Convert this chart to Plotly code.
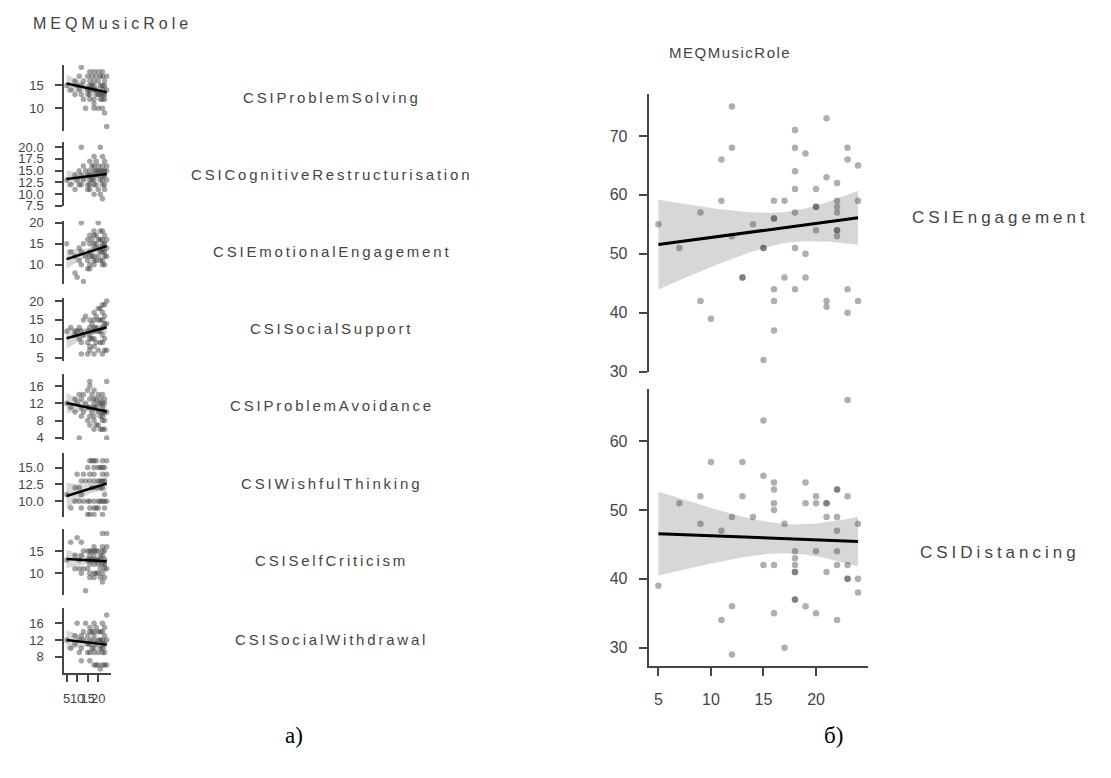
import numpy as np
import plotly.graph_objects as go

W, H = 1111, 778

# ---------------- data ----------------
# Left panel: MEQMusicRole (x) shared by all eight CSI scales
meq = [5, 7, 9, 9, 10, 11, 11, 12, 12, 12, 13, 13, 14, 15, 15, 15,
       16, 16, 16, 16, 16, 16, 17, 17, 18, 18, 18, 18, 18, 18, 18,
       19, 19, 19, 20, 20, 20, 20, 21, 21, 21, 21,
       22, 22, 22, 22, 22, 22, 22, 23, 23, 23, 23, 23, 24, 24, 24]

left_names = ["CSIProblemSolving", "CSICognitiveRestructurisation",
              "CSIEmotionalEngagement", "CSISocialSupport",
              "CSIProblemAvoidance", "CSIWishfulThinking",
              "CSISelfCriticism", "CSISocialWithdrawal"]

problem_solving = [15, 14, 16, 13, 15, 17, 14, 19, 15, 13, 16, 12, 10, 17, 14, 13,
                   18, 16, 15, 14, 13, 12, 17, 15, 18, 16, 15, 14, 12, 11, 10,
                   17, 14, 13, 18, 16, 13, 10, 17, 15, 13, 12,
                   18, 17, 15, 14, 13, 12, 10, 16, 15, 13, 12, 9, 17, 14, 6]
cognitive_restr = [13, 12, 14, 11, 13, 15, 12, 20, 14, 12, 16, 13, 15, 14, 12, 11,
                   17, 15, 14, 13, 12, 11, 16, 13, 18, 16, 15, 14, 13, 12, 10,
                   17, 15, 12, 16, 15, 14, 11, 20, 15, 13, 10,
                   18, 16, 15, 14, 13, 12, 9, 17, 15, 14, 12, 11, 16, 15, 13]
emotional_eng = [15, 13, 8, 12, 7, 14, 11, 20, 13, 10, 6, 15, 12, 16, 11, 9,
                 17, 15, 13, 12, 10, 9, 16, 12, 18, 17, 15, 14, 12, 11, 10,
                 17, 15, 11, 20, 16, 14, 12, 18, 16, 13, 11,
                 18, 16, 15, 14, 13, 11, 10, 17, 15, 13, 12, 10, 16, 14, 12]
social_support = [12, 13, 11, 12, 12, 13, 10, 12, 9, 6, 15, 11, 16, 12, 9, 6,
                  15, 13, 11, 10, 8, 7, 14, 10, 17, 15, 13, 12, 10, 8, 6,
                  16, 13, 9, 18, 15, 12, 7, 18, 15, 12, 9,
                  19, 17, 15, 13, 11, 9, 6, 19, 16, 14, 10, 7, 20, 14, 7]
problem_avoid = [12, 11, 10, 13, 12, 14, 4, 13, 9, 11, 14, 10, 12, 15, 11, 8,
                 17, 16, 13, 11, 9, 7, 14, 10, 15, 13, 12, 11, 9, 8, 6,
                 13, 11, 7, 14, 12, 10, 7, 13, 12, 9, 6,
                 14, 12, 11, 10, 9, 8, 6, 13, 12, 10, 8, 6, 17, 10, 4]
wishful = [11, 9, 10, 12, 14, 10, 12, 13, 9, 11, 14, 10, 13, 15, 10, 8,
           16, 14, 13, 10, 9, 8, 16, 12, 16, 15, 14, 13, 10, 9, 8,
           16, 12, 9, 15, 13, 10, 9, 15, 13, 12, 10,
           16, 15, 14, 13, 12, 10, 8, 15, 13, 11, 10, 9, 16, 14, 10]
self_criticism = [13, 17, 14, 11, 18, 13, 11, 17, 14, 10, 15, 11, 6, 15, 13, 11,
                  15, 14, 13, 12, 10, 9, 15, 13, 16, 15, 14, 13, 12, 10, 9,
                  15, 13, 10, 15, 13, 12, 10, 14, 13, 11, 9,
                  19, 16, 15, 14, 12, 10, 8, 15, 13, 12, 11, 9, 19, 16, 11]
social_withdr = [12, 10, 13, 11, 16, 12, 9, 13, 10, 7, 14, 12, 16, 13, 11, 9,
                 15, 14, 12, 11, 9, 7, 14, 10, 16, 14, 13, 12, 10, 9, 6,
                 15, 11, 6, 14, 12, 9, 6, 14, 12, 10, 5,
                 16, 14, 12, 11, 10, 9, 6, 15, 13, 11, 9, 6, 18, 12, 6]
left_values = [problem_solving, cognitive_restr, emotional_eng, social_support,
               problem_avoid, wishful, self_criticism, social_withdr]

left_yticks = [[10, 15], [7.5, 10.0, 12.5, 15.0, 17.5, 20.0], [10, 15, 20],
               [5, 10, 15, 20], [4, 8, 12, 16], [10.0, 12.5, 15.0], [10, 15],
               [8, 12, 16]]
left_yticktext = [["10", "15"], ["7.5", "10.0", "12.5", "15.0", "17.5", "20.0"],
                  ["10", "15", "20"], ["5", "10", "15", "20"],
                  ["4", "8", "12", "16"], ["10.0", "12.5", "15.0"],
                  ["10", "15"], ["8", "12", "16"]]
x_ticks = [5, 10, 15, 20]

# Right panel
eng_x = [5, 7, 9, 11, 11, 12, 12, 12, 14, 15, 15, 16, 16, 16, 17,
         18, 18, 18, 18, 18, 18, 19, 19, 20, 20, 20, 20, 21, 21,
         22, 22, 22, 22, 22, 22, 22, 23, 23, 24, 24,
         13, 13, 17, 19, 16, 18, 23, 9, 16, 21, 21, 24, 10, 23, 16, 15]
eng_y = [55, 51, 57, 66, 59, 75, 68, 53, 55, 51, 51, 59, 56, 56, 59,
         71, 68, 64, 61, 57, 51, 67, 50, 61, 58, 58, 54, 73, 63,
         62, 59, 58, 57, 54, 54, 53, 68, 66, 65, 59,
         46, 46, 46, 46, 44, 44, 44, 42, 42, 42, 41, 42, 39, 40, 37, 32]
dist_x = [5, 7, 9, 9, 10, 11, 11, 12, 12, 12, 13, 13, 14, 15, 15, 15,
          16, 16, 16, 16, 16, 16, 17, 17, 18, 18, 18, 18, 18, 18, 18,
          19, 19, 19, 20, 20, 20, 20, 21, 21, 21, 21,
          22, 22, 22, 22, 22, 22, 22, 23, 23, 23, 23, 23, 24, 24, 24]
dist_y = [39, 51, 52, 48, 57, 47, 34, 49, 36, 29, 57, 52, 49, 55, 42, 63,
          54, 53, 51, 50, 42, 35, 48, 30, 44, 43, 42, 41, 41, 37, 37,
          54, 51, 36, 52, 51, 44, 35, 51, 51, 49, 41,
          53, 53, 49, 47, 44, 42, 34, 52, 42, 40, 40, 66, 48, 40, 38]
right_names = ["CSIEngagement", "CSIDistancing"]
right_yticks = [[30, 40, 50, 60, 70], [30, 40, 50, 60]]

# ---------------- layout helpers ----------------
def px(x):
    return x / W


def py(y):
    return 1 - y / H


def fit_band(x, y, t=2.004):
    x = np.asarray(x, float)
    y = np.asarray(y, float)
    b, a = np.polyfit(x, y, 1)
    n = len(x)
    res = y - (a + b * x)
    s = np.sqrt((res ** 2).sum() / (n - 2))
    xm = x.mean()
    sxx = ((x - xm) ** 2).sum()
    g = np.linspace(x.min(), x.max(), 80)
    yh = a + b * g
    se = s * np.sqrt(1 / n + (g - xm) ** 2 / sxx)
    return g, yh, yh - t * se, yh + t * se


AX = "#454545"
TXT = "#444444"
FONT = "Liberation Sans"
PT = "rgba(55,55,55,0.40)"
PT_LEFT = "rgba(55,55,55,0.45)"
BAND = "rgba(160,160,160,0.42)"

fig = go.Figure()
layout = {}

left_dom_px = [(60, 127), (139, 204), (219, 283), (297, 362),
               (375, 442), (455, 520), (533, 600), (613, 679)]
left_ranges = [(5.1, 19.5), (7.4, 21.0), (5.4, 20.4), (4.0, 20.9),
               (3.5, 18.7), (7.7, 17.2), (5.0, 19.9), (4.1, 19.7)]
left_label_y = [93, 172, 250, 328, 407, 486, 565, 645]
left_xdom = [px(63.3), px(110)]
left_xrange = [3.9, 26]


def add_panel(i, xs, ys, xdom, xrange, ydom, yrange, ytv, ytt, show_x,
              msize, mcolor, lw, tickfont, standoff_y, standoff_x, ticklen):
    xa = "x" if i == 1 else f"x{i}"
    ya = "y" if i == 1 else f"y{i}"
    g, yh, lo, hi = fit_band(xs, ys)
    fig.add_trace(go.Scatter(x=np.concatenate([g, g[::-1]]),
                             y=np.concatenate([hi, lo[::-1]]),
                             fill="toself", fillcolor=BAND, line=dict(width=0),
                             mode="lines", hoverinfo="skip", showlegend=False,
                             xaxis=xa, yaxis=ya))
    fig.add_trace(go.Scatter(x=xs, y=ys, mode="markers",
                             marker=dict(size=msize, color=mcolor, line=dict(width=0)),
                             showlegend=False, xaxis=xa, yaxis=ya))
    fig.add_trace(go.Scatter(x=g, y=yh, mode="lines",
                             line=dict(color="black", width=lw),
                             showlegend=False, xaxis=xa, yaxis=ya))
    xkey = "xaxis" if i == 1 else f"xaxis{i}"
    ykey = "yaxis" if i == 1 else f"yaxis{i}"
    layout[xkey] = dict(domain=xdom, range=list(xrange), anchor=ya,
                        showgrid=False, zeroline=False,
                        showline=show_x, linecolor=AX, linewidth=2,
                        ticks="outside" if show_x else "", ticklen=ticklen,
                        tickwidth=2, tickcolor=AX,
                        showticklabels=show_x, tickvals=x_ticks,
                        ticktext=[str(v) for v in x_ticks], tickangle=0,
                        tickfont=dict(family=FONT, size=tickfont, color=TXT),
                        ticklabelstandoff=standoff_x, fixedrange=True)
    layout[ykey] = dict(domain=ydom, range=list(yrange), anchor=xa,
                        showgrid=False, zeroline=False,
                        showline=True, linecolor=AX, linewidth=2,
                        ticks="outside", ticklen=ticklen, tickwidth=2,
                        tickcolor=AX, tickvals=ytv, ticktext=ytt,
                        tickfont=dict(family=FONT, size=tickfont, color=TXT),
                        ticklabelstandoff=standoff_y, fixedrange=True)


for k in range(8):
    top, bot = left_dom_px[k]
    add_panel(k + 1, meq, left_values[k], left_xdom, left_xrange,
              [py(bot), py(top)], left_ranges[k], left_yticks[k],
              left_yticktext[k], k == 7, 5.5, PT_LEFT, 2.5, 13, 9, 6, 7)

right_dom_px = [(90, 373), (390, 672.3)]
right_ranges = [(29.9, 77.05), (27.3, 67.6)]
right_xdom = [px(648.3), px(867.3)]
right_xrange = [4.08, 24.9]
right_data = [(eng_x, eng_y), (dist_x, dist_y)]
for k in range(2):
    top, bot = right_dom_px[k]
    xs, ys = right_data[k]
    add_panel(9 + k, xs, ys, right_xdom, right_xrange,
              [py(bot), py(top)], right_ranges[k], right_yticks[k],
              [str(v) for v in right_yticks[k]], k == 1, 6.5, PT, 3, 16, 8, 10, 8)


def spaced(text, sp):
    return f'<span style="letter-spacing:{sp}px">{text}</span>'


ann = []
ann.append(dict(text=spaced("MEQMusicRole", 4), x=px(112), y=py(18),
                font=dict(family=FONT, size=16, color=TXT)))
ann.append(dict(text=spaced("MEQMusicRole", 1.5), x=px(730), y=py(47),
                font=dict(family=FONT, size=15, color=TXT)))
for k, name in enumerate(left_names):
    ann.append(dict(text=spaced(name, 2.8), x=px(331), y=py(left_label_y[k]),
                    font=dict(family=FONT, size=15, color=TXT)))
for name, yy in zip(right_names, [215, 557]):
    ann.append(dict(text=spaced(name, 4), x=px(1000), y=py(yy),
                    font=dict(family=FONT, size=17, color=TXT)))
ann.append(dict(text="а)", x=px(293), y=py(743),
                font=dict(family="Liberation Serif", size=23, color="black")))
ann.append(dict(text="б)", x=px(833), y=py(743),
                font=dict(family="Liberation Serif", size=23, color="black")))
for a in ann:
    a.update(xref="paper", yref="paper", xanchor="center", yanchor="middle",
             showarrow=False)

fig.update_layout(width=W, height=H, autosize=False,
                  margin=dict(l=0, r=0, t=0, b=0, pad=0),
                  paper_bgcolor="white", plot_bgcolor="white",
                  annotations=ann, showlegend=False, **layout)

fig.write_html("out.html", config={"displayModeBar": False})
